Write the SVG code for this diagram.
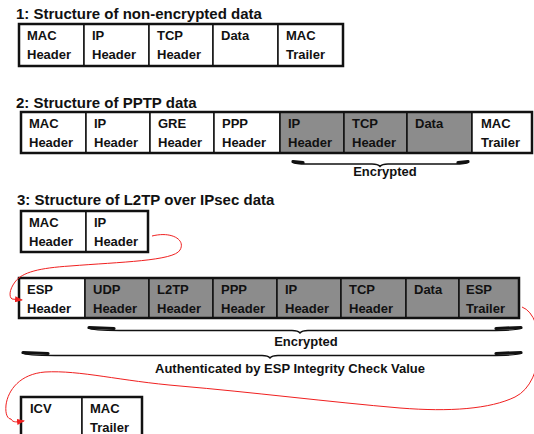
<svg xmlns="http://www.w3.org/2000/svg" width="534" height="434" viewBox="0 0 534 434">
<style>
.t{font-family:"Liberation Sans",Arial,sans-serif;font-weight:bold;font-size:13px;fill:#111}
.ttl{font-family:"Liberation Sans",Arial,sans-serif;font-weight:bold;font-size:15px;fill:#111}
.w{fill:#fff;stroke:#111;stroke-width:1.5}
.g{fill:#8c8c8c;stroke:#111;stroke-width:1.5}
.frame{fill:none;stroke:#111;stroke-width:2.5}
.br{fill:none;stroke:#111;stroke-width:1.4}
.bre{fill:none;stroke:#111;stroke-width:3.2;stroke-linecap:round}
.red{fill:none;stroke:#f02020;stroke-width:1}
</style>
<defs>
<marker id="ah" markerWidth="8" markerHeight="6" refX="7" refY="3" orient="auto" markerUnits="userSpaceOnUse">
<path d="M0,0 L8,3 L0,6 Z" fill="#f02020"/>
</marker>
</defs>
<rect width="534" height="434" fill="#fff"/>

<text class="ttl" x="16" y="19">1: Structure of non-encrypted data</text>
<text class="ttl" x="16" y="108">2: Structure of PPTP data</text>
<text class="ttl" x="17" y="205">3: Structure of L2TP over IPsec data</text>

<!-- Row 1 -->
<g id="row1">
<g id="r1-mac"><rect class="w" x="19" y="24" width="65" height="42"/><text class="t" x="27" y="40">MAC</text><text class="t" x="27" y="59">Header</text></g>
<g id="r1-ip"><rect class="w" x="84" y="24" width="65" height="42"/><text class="t" x="92" y="40">IP</text><text class="t" x="92" y="59">Header</text></g>
<g id="r1-tcp"><rect class="w" x="149" y="24" width="64" height="42"/><text class="t" x="157" y="40">TCP</text><text class="t" x="157" y="59">Header</text></g>
<g id="r1-data"><rect class="w" x="213" y="24" width="65" height="42"/><text class="t" x="221" y="40">Data</text></g>
<g id="r1-mact"><rect class="w" x="278" y="24" width="65" height="42"/><text class="t" x="286" y="40">MAC</text><text class="t" x="286" y="59">Trailer</text></g>
<rect class="frame" x="19" y="24" width="324" height="42"/>
</g>

<!-- Row 2 -->
<g id="row2">
<g id="r2-mac"><rect class="w" x="21" y="112" width="65" height="41"/><text class="t" x="29" y="128">MAC</text><text class="t" x="29" y="147">Header</text></g>
<g id="r2-ip"><rect class="w" x="86" y="112" width="64" height="41"/><text class="t" x="94" y="128">IP</text><text class="t" x="94" y="147">Header</text></g>
<g id="r2-gre"><rect class="w" x="150" y="112" width="64" height="41"/><text class="t" x="158" y="128">GRE</text><text class="t" x="158" y="147">Header</text></g>
<g id="r2-ppp"><rect class="w" x="214" y="112" width="66" height="41"/><text class="t" x="222" y="128">PPP</text><text class="t" x="222" y="147">Header</text></g>
<g id="r2-ip2"><rect class="g" x="280" y="112" width="64" height="41"/><text class="t" x="288" y="128">IP</text><text class="t" x="288" y="147">Header</text></g>
<g id="r2-tcp"><rect class="g" x="344" y="112" width="63" height="41"/><text class="t" x="352" y="128">TCP</text><text class="t" x="352" y="147">Header</text></g>
<g id="r2-data"><rect class="g" x="407" y="112" width="65" height="41"/><text class="t" x="415" y="128">Data</text></g>
<g id="r2-mact"><rect class="w" x="472" y="112" width="60" height="41"/><text class="t" x="481" y="128">MAC</text><text class="t" x="481" y="147">Trailer</text></g>
<rect class="frame" x="21" y="112" width="511" height="41"/>
</g>

<!-- Row 3a -->
<g id="row3a">
<g id="r3a-mac"><rect class="w" x="21" y="211" width="65" height="41"/><text class="t" x="29" y="227">MAC</text><text class="t" x="29" y="246">Header</text></g>
<g id="r3a-ip"><rect class="w" x="86" y="211" width="62" height="41"/><text class="t" x="94" y="227">IP</text><text class="t" x="94" y="246">Header</text></g>
<rect class="frame" x="21" y="211" width="127" height="41"/>
</g>

<!-- Row 3b -->
<g id="row3b">
<g id="r3b-esp"><rect class="w" x="19" y="278" width="66" height="40"/><text class="t" x="27" y="294">ESP</text><text class="t" x="27" y="313">Header</text></g>
<g id="r3b-udp"><rect class="g" x="85" y="278" width="64" height="40"/><text class="t" x="93" y="294">UDP</text><text class="t" x="93" y="313">Header</text></g>
<g id="r3b-l2tp"><rect class="g" x="149" y="278" width="64" height="40"/><text class="t" x="157" y="294">L2TP</text><text class="t" x="157" y="313">Header</text></g>
<g id="r3b-ppp"><rect class="g" x="213" y="278" width="64" height="40"/><text class="t" x="221" y="294">PPP</text><text class="t" x="221" y="313">Header</text></g>
<g id="r3b-ip"><rect class="g" x="277" y="278" width="64" height="40"/><text class="t" x="285" y="294">IP</text><text class="t" x="285" y="313">Header</text></g>
<g id="r3b-tcp"><rect class="g" x="341" y="278" width="65" height="40"/><text class="t" x="349" y="294">TCP</text><text class="t" x="349" y="313">Header</text></g>
<g id="r3b-data"><rect class="g" x="406" y="278" width="53" height="40"/><text class="t" x="414" y="294">Data</text></g>
<g id="r3b-espt"><rect class="g" x="459" y="278" width="60" height="40"/><text class="t" x="466" y="294">ESP</text><text class="t" x="466" y="313">Trailer</text></g>
<rect class="frame" x="19" y="278" width="500" height="40"/>
</g>

<!-- Row 4 -->
<g id="row4">
<g id="r4-icv"><rect class="w" x="21" y="397" width="61" height="42"/><text class="t" x="30" y="413">ICV</text></g>
<g id="r4-mact"><rect class="w" x="82" y="397" width="60" height="42"/><text class="t" x="90" y="413">MAC</text><text class="t" x="90" y="432">Trailer</text></g>
<rect class="frame" x="21" y="397" width="121" height="42"/>
</g>

<!-- Braces and labels -->
<g id="brace-pptp">
<path class="br" d="M292,162 Q296,164 306,164 L372,164 Q378,164 380,166.5 Q382,164 388,164 L455,164 Q465,164 469,162"/>
<path class="bre" d="M293,161.5 L303,162.5"/>
<path class="bre" d="M458,162.5 L468,161.5"/>
<text class="t" x="385" y="176" text-anchor="middle">Encrypted</text>
</g>
<g id="brace-enc">
<path class="br" d="M88,328 Q92,330.5 120,330.5 L292,330.5 Q298,330.5 300,333 Q302,330.5 308,330.5 L490,330.5 Q518,330.5 522,328"/>
<path class="bre" d="M89,327.5 L114,328.5"/>
<path class="bre" d="M496,328.5 L521,327.5"/>
<text class="t" x="306" y="346" text-anchor="middle">Encrypted</text>
</g>
<g id="brace-auth">
<path class="br" d="M22,353 Q26,355.5 55,355.5 L262,355.5 Q268,355.5 270,358 Q272,355.5 278,355.5 L490,355.5 Q518,355.5 522,353"/>
<path class="bre" d="M23,352.5 L48,353.5"/>
<path class="bre" d="M496,353.5 L521,352.5"/>
<text class="t" x="290" y="373" text-anchor="middle">Authenticated by ESP Integrity Check Value</text>
</g>

<!-- Connectors -->
<g id="connectors">
<path class="red" marker-end="url(#ah)" d="M152,236 C172,231 186,240 180,250 C174,261 120,262 70,266 C40,268 22,272 15,282 C9,290 9,297 12,299 L22,300"/>
<path class="red" marker-end="url(#ah)" d="M522,307 C546,316 546,382 515,397 C490,409 450,412 400,408 C330,402 250,392 180,386 C120,381 80,370 45,372 C20,374 8,390 6,405 C5,415 8,419 11,419 C13,423 17,422 24,421"/>
</g>
</svg>
